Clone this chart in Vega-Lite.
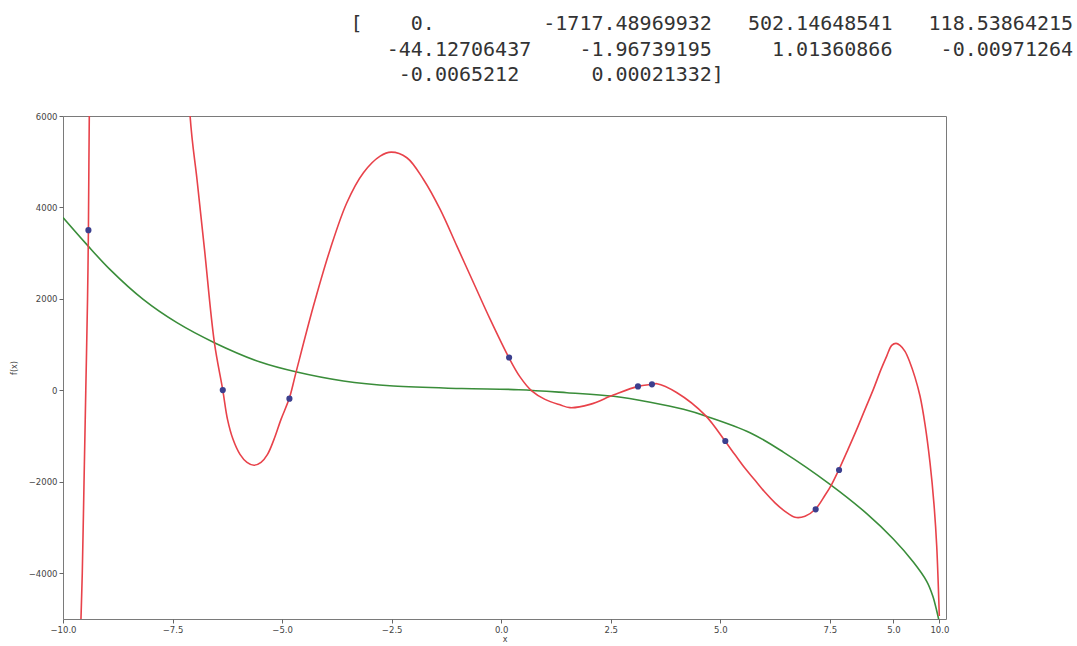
{
  "$schema": "https://vega.github.io/schema/vega-lite/v6.json",
  "width": 883,
  "height": 503,
  "autosize": {"type": "none"},
  "padding": {"left": 63, "top": 116, "right": 131, "bottom": 27},
  "background": "white",
  "title": {
    "text": [
      "\u200b[\u00a0\u00a0\u00a0\u00a00.\u00a0\u00a0\u00a0\u00a0\u00a0\u00a0\u00a0\u00a0\u00a0-1717.48969932\u00a0\u00a0\u00a0502.14648541\u00a0\u00a0\u00a0118.53864215",
      "\u200b\u00a0\u00a0\u00a0-44.12706437\u00a0\u00a0\u00a0\u00a0-1.96739195\u00a0\u00a0\u00a0\u00a0\u00a01.01360866\u00a0\u00a0\u00a0\u00a0-0.00971264",
      "\u200b\u00a0\u00a0\u00a0\u00a0-0.0065212\u00a0\u00a0\u00a0\u00a0\u00a0\u00a00.00021332]"
    ],
    "anchor": "start",
    "frame": "group",
    "dx": 287.6,
    "offset": 7,
    "baseline": "bottom",
    "font": "DejaVu Sans Mono",
    "fontSize": 20,
    "fontWeight": "normal",
    "color": "#333333",
    "lineHeight": 25.5
  },
  "datasets": {
    "fit": [
      {"x": -9.64, "y": -7000},
      {"x": -9.59, "y": -5000},
      {"x": -9.56, "y": -4000},
      {"x": -9.52, "y": -2000},
      {"x": -9.48, "y": 0},
      {"x": -9.44, "y": 2000},
      {"x": -9.42, "y": 3500},
      {"x": -9.40, "y": 6000},
      {"x": -9.37, "y": 8000},
      {"x": -8.8, "y": 30000},
      {"x": -8.0, "y": 40000},
      {"x": -7.5, "y": 16000},
      {"x": -7.10, "y": 6000},
      {"x": -6.942, "y": 4612},
      {"x": -6.771, "y": 3082},
      {"x": -6.546, "y": 1049},
      {"x": -6.354, "y": 7},
      {"x": -6.246, "y": -634},
      {"x": -6.120, "y": -1071},
      {"x": -5.961, "y": -1399},
      {"x": -5.801, "y": -1574},
      {"x": -5.641, "y": -1639},
      {"x": -5.481, "y": -1574},
      {"x": -5.333, "y": -1399},
      {"x": -5.185, "y": -1071},
      {"x": -5.025, "y": -634},
      {"x": -4.836, "y": -175},
      {"x": -4.683, "y": 393},
      {"x": -4.285, "y": 1843},
      {"x": -3.904, "y": 3082},
      {"x": -3.523, "y": 4103},
      {"x": -3.144, "y": 4759},
      {"x": -2.763, "y": 5122},
      {"x": -2.511, "y": 5209},
      {"x": -2.153, "y": 5087},
      {"x": -1.774, "y": 4612},
      {"x": -1.393, "y": 3957},
      {"x": -1.011, "y": 3154},
      {"x": -0.632, "y": 2354},
      {"x": -0.251, "y": 1552},
      {"x": 0.176, "y": 715},
      {"x": 0.429, "y": 295},
      {"x": 0.696, "y": -11},
      {"x": 0.999, "y": -197},
      {"x": 1.342, "y": -317},
      {"x": 1.570, "y": -378},
      {"x": 2.026, "y": -306},
      {"x": 2.558, "y": -103},
      {"x": 3.121, "y": 87},
      {"x": 3.44, "y": 131},
      {"x": 3.555, "y": 146},
      {"x": 4.011, "y": -51},
      {"x": 4.658, "y": -546},
      {"x": 5.107, "y": -1108},
      {"x": 5.336, "y": -1410},
      {"x": 5.564, "y": -1705},
      {"x": 5.792, "y": -1967},
      {"x": 6.020, "y": -2230},
      {"x": 6.248, "y": -2459},
      {"x": 6.476, "y": -2645},
      {"x": 6.705, "y": -2776},
      {"x": 6.933, "y": -2754},
      {"x": 7.168, "y": -2601},
      {"x": 7.389, "y": -2295},
      {"x": 7.542, "y": -2055},
      {"x": 7.702, "y": -1742},
      {"x": 7.914, "y": -1290},
      {"x": 8.113, "y": -853},
      {"x": 8.302, "y": -415},
      {"x": 8.492, "y": 22},
      {"x": 8.667, "y": 459},
      {"x": 8.797, "y": 750},
      {"x": 8.911, "y": 984},
      {"x": 9.010, "y": 1027},
      {"x": 9.101, "y": 984},
      {"x": 9.215, "y": 853},
      {"x": 9.329, "y": 605},
      {"x": 9.443, "y": 284},
      {"x": 9.557, "y": -124},
      {"x": 9.671, "y": -743},
      {"x": 9.785, "y": -1580},
      {"x": 9.876, "y": -2492},
      {"x": 9.938, "y": -3404},
      {"x": 9.997, "y": -4934}
    ],
    "truth": [
      {"x": -10.0, "y": 3780},
      {"x": -9.46, "y": 3192},
      {"x": -8.93, "y": 2645},
      {"x": -8.17, "y": 1989},
      {"x": -7.40, "y": 1480},
      {"x": -6.546, "y": 1043},
      {"x": -5.50, "y": 619},
      {"x": -4.665, "y": 400},
      {"x": -3.60, "y": 204},
      {"x": -2.46, "y": 94},
      {"x": -0.9, "y": 40},
      {"x": 0.4, "y": 15},
      {"x": 1.50, "y": -51},
      {"x": 2.564, "y": -130},
      {"x": 3.40, "y": -260},
      {"x": 4.16, "y": -415},
      {"x": 4.696, "y": -570},
      {"x": 5.678, "y": -925},
      {"x": 6.438, "y": -1350},
      {"x": 7.503, "y": -2055},
      {"x": 8.341, "y": -2695},
      {"x": 8.948, "y": -3250},
      {"x": 9.404, "y": -3753},
      {"x": 9.710, "y": -4175},
      {"x": 9.85, "y": -4500},
      {"x": 9.938, "y": -4820},
      {"x": 10.0, "y": -5080}
    ],
    "samples": [
      {"x": -9.42, "y": 3504},
      {"x": -6.354, "y": 7},
      {"x": -4.833, "y": -181},
      {"x": 0.18, "y": 718},
      {"x": 3.121, "y": 87},
      {"x": 3.44, "y": 131},
      {"x": 5.114, "y": -1108},
      {"x": 7.176, "y": -2601},
      {"x": 7.71, "y": -1742}
    ]
  },
  "encoding": {
    "x": {
      "field": "x",
      "type": "quantitative",
      "scale": {"domain": [-10, 10.15], "nice": false, "zero": false},
      "axis": {
        "title": "x",
        "values": [-10, -7.5, -5, -2.5, 0, 2.5, 5, 7.5, 8.95, 10],
        "labelExpr": "datum.value > 8.5 && datum.value < 9.5 ? '5.0' : format(datum.value, '.1f')",
        "labelFlush": false,
        "labelOverlap": false,
        "titlePadding": 2
      }
    },
    "y": {
      "field": "y",
      "type": "quantitative",
      "scale": {"domain": [-5000, 6000], "nice": false, "zero": false},
      "axis": {
        "title": "f(x)",
        "values": [-4000, -2000, 0, 2000, 4000, 6000],
        "format": "d",
        "labelFlush": false,
        "labelOverlap": false,
        "titlePadding": 10
      }
    }
  },
  "layer": [
    {
      "data": {"name": "truth"},
      "mark": {"type": "line", "color": "#3a8d3a", "strokeWidth": 1.6, "interpolate": "catmull-rom", "clip": true}
    },
    {
      "data": {"name": "fit"},
      "mark": {"type": "line", "color": "#e8424a", "strokeWidth": 1.6, "interpolate": "catmull-rom", "clip": true}
    },
    {
      "data": {"name": "samples"},
      "mark": {"type": "point", "filled": true, "color": "#3c3f8e", "size": 38, "opacity": 1}
    }
  ],
  "config": {
    "view": {"stroke": "#7a7a7a", "strokeWidth": 1},
    "axis": {
      "grid": false,
      "domain": false,
      "ticks": true,
      "tickSize": 4,
      "tickColor": "#666666",
      "labelFont": "DejaVu Sans",
      "labelFontSize": 8.5,
      "labelColor": "#444444",
      "labelPadding": 2,
      "titleFont": "DejaVu Sans",
      "titleFontSize": 8,
      "titleFontWeight": "normal",
      "titleColor": "#444444"
    }
  }
}
